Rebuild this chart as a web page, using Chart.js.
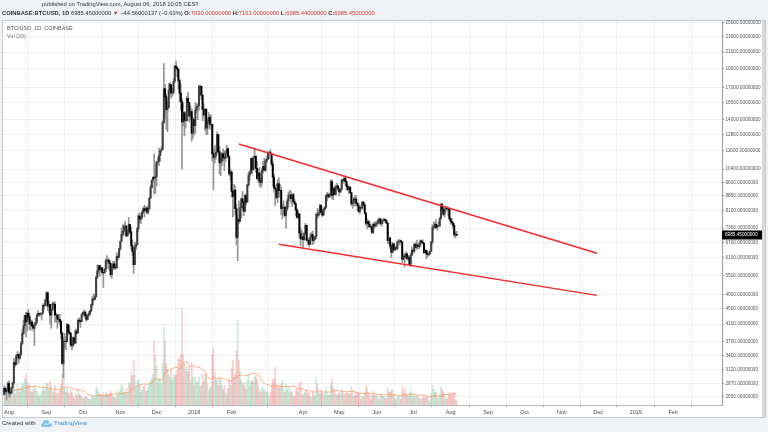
<!DOCTYPE html>
<html>
<head>
<meta charset="utf-8">
<script src="https://cdn.jsdelivr.net/npm/chart.js@4.4.0/dist/chart.umd.min.js"></script>
<style>
body{margin:0;width:768px;height:432px;background:#f0f3f6;position:relative;overflow:hidden;font-family:"Liberation Sans",Arial,sans-serif;}
.t{position:absolute;white-space:nowrap;color:#2f3136;z-index:3;}
.red{color:#d23a3a;}
#pane{position:absolute;left:2px;top:20px;width:764px;height:398px;background:#fff;border:1px solid #c8cbd0;box-sizing:border-box;}
#chart{position:absolute;left:0;top:0;z-index:2;}
#scroll{position:absolute;left:762px;top:21px;width:3px;height:396px;background:#d7d9dd;z-index:3;}
</style>
</head>
<body>
<div id="pane"></div>
<canvas id="chart" width="768" height="432"></canvas>
<div id="scroll"></div>
<div class="t" style="left:42px;top:1px;font-size:5.8px;color:#333">published on TradingView.com, August 06, 2018 10:05 CEST</div>
<div class="t" style="left:2px;top:10px;font-size:5.8px"><b>COINBASE:BTCUSD, 1D</b> 6985.45000000 <span class="red">&#9660;</span> &minus;44.56000137 (&minus;0.63%) <b>O:</b><span class="red">7030.00000000</span> <b>H:</b><span class="red">7163.00000000</span> <b>L:</b><span class="red">6985.44000000</span> <b>C:</b><span class="red">6985.45000000</span></div>
<div class="t" style="left:7px;top:25px;font-size:5.5px;color:#555">BTC/USD, 1D, COINBASE</div>
<div class="t" style="left:7px;top:33px;font-size:5.5px;color:#777">Vol (20)</div>
<div class="t" style="left:2px;top:420px;font-size:6px;color:#333">Created with</div>
<svg class="t" style="left:41px;top:419px" width="11" height="9" viewBox="0 0 11 9">
  <path d="M2 8 Q0 8 0 6 Q0 4 2 4 Q2 1 5 1 Q8 1 8.5 4 Q11 4 11 6 Q11 8 9 8 Z" fill="#7cc0ef"/>
  <path d="M3 6.5 L5 4.5 L6.5 6 L8.5 3.5" stroke="#fff" stroke-width="0.9" fill="none"/>
</svg>
<div class="t" style="left:54px;top:420px;font-size:6px;color:#2f8ee0">TradingView</div>

<script>
// days are counted from 1 Aug 2017; first candle is 28 Jul 2017
const firstDay = -4;
const firstOpen = 2690;

const closes = [
  2790, 2730, 2760, 2870,
  // Aug 2017
  2720, 2710, 2800, 2880, 3260, 3220, 3390, 3420, 3340, 3420, 3650, 3880, 4060, 4320, 4160, 4380, 4280, 4100, 4150, 4060, 4000, 4080, 4140, 4320, 4370, 4350, 4350, 4380, 4590, 4580, 4740,
  // Sep
  4950, 4570, 4620, 4330, 4460, 4630, 4620, 4330, 4330, 4230, 4220, 4170, 3880, 3240, 3700, 3700, 3690, 4090, 3910, 3880, 3620, 3610, 3780, 3660, 3930, 3890, 4200, 4190, 4160, 4340,
  // Oct
  4400, 4410, 4310, 4220, 4320, 4370, 4440, 4610, 4770, 4760, 4830, 5440, 5640, 5830, 5690, 5750, 5600, 5580, 5700, 6010, 6020, 5990, 5900, 5520, 5740, 5890, 5770, 5750, 6150, 6130, 6450,
  // Nov
  6740, 7030, 7160, 7380, 7390, 6960, 7100, 7460, 7140, 6580, 6350, 5860, 6520, 6600, 7280, 7850, 7700, 7790, 8040, 8200, 8100, 8230, 8030, 8200, 8750, 9300, 9730, 9900, 9850, 9950,
  // Dec
  10860, 10900, 11290, 11630, 11700, 13750, 16850, 16050, 14850, 15050, 16730, 17280, 16400, 16500, 17600, 19300, 19100, 18950, 17700, 16400, 15600, 13800, 14600, 13900, 13900, 15900, 15500, 14300, 14700, 12900, 14000,
  // Jan 2018
  13500, 14800, 15100, 15200, 17100, 17100, 16200, 14900, 14400, 14900, 13300, 13800, 14200, 13600, 13600, 11400, 11150, 11250, 11500, 12800, 11550, 10800, 10900, 11400, 11150, 11100, 11450, 11770, 11200, 10100, 10220,
  // Feb
  9100, 8830, 9170, 8200, 6900, 7700, 7600, 8250, 8700, 8550, 8070, 8880, 8530, 9460, 10040, 10170, 11100, 10380, 11150, 11230, 10450, 9830, 10160, 9690, 9600, 10310, 10570, 10330,
  // Mar
  10920, 11030, 11490, 11510, 11430, 10720, 9910, 9290, 9230, 8770, 9530, 9140, 9150, 8200, 8260, 8270, 7870, 8200, 8600, 8900, 8900, 8710, 8930, 8550, 8450, 8140, 7790, 7950, 7090, 6840, 6930,
  // Apr
  6810, 7060, 7420, 6790, 6780, 6620, 6900, 7020, 6770, 6830, 6940, 7920, 7890, 8000, 8360, 8050, 7890, 8170, 8280, 8860, 8920, 8800, 8940, 9650, 8870, 9280, 8930, 9350, 9400, 9240,
  // May
  9070, 9220, 9740, 9700, 9850, 9650, 9370, 9190, 9320, 9030, 8440, 8480, 8700, 8680, 8480, 8350, 8060, 8250, 8240, 8530, 8400, 7990, 7510, 7590, 7480, 7360, 7350, 7110, 7470, 7390, 7490,
  // Jun
  7520, 7640, 7710, 7490, 7620, 7650, 7690, 7620, 7520, 6770, 6880, 6550, 6310, 6640, 6400, 6490, 6460, 6710, 6740, 6760, 6720, 6050, 6170, 6140, 6250, 6080, 6130, 5870, 6200, 6390,
  // Jul
  6360, 6620, 6510, 6600, 6530, 6600, 6760, 6710, 6660, 6300, 6390, 6250, 6220, 6260, 6350, 6730, 7320, 7380, 7470, 7330, 7400, 7400, 7720, 8400, 8170, 7930, 8190, 8230, 8210, 8170, 7730,
  // Aug
  7600, 7540, 7420, 7010, 7030, 6985.45
];

const highs = [
  2830, 2810, 2780, 2900,
  2920, 2760, 2810, 2900, 3340, 3290, 3420, 3480, 3430, 3450, 3700, 3970, 4200, 4330, 4400, 4410, 4480, 4370, 4200, 4200, 4100, 4140, 4250, 4370, 4450, 4380, 4400, 4380, 4630, 4640, 4760,
  4980, 4980, 4720, 4620, 4490, 4680, 4690, 4690, 4380, 4350, 4350, 4350, 4190, 3920, 3790, 3880, 3800, 4120, 4100, 4060, 3900, 3770, 3800, 3790, 3980, 3980, 4220, 4260, 4200, 4370,
  4410, 4470, 4430, 4360, 4360, 4420, 4460, 4620, 4840, 4920, 4880, 5450, 5860, 5840, 5850, 5780, 5770, 5600, 5730, 6070, 6190, 6070, 6060, 5900, 5770, 5980, 5990, 5860, 6300, 6230, 6470,
  6750, 7300, 7450, 7480, 7600, 7400, 7200, 7780, 7450, 7330, 6800, 6490, 6700, 6710, 7330, 7950, 8000, 7850, 8100, 8290, 8370, 8300, 8270, 8350, 8760, 9450, 9750, 9950, 11400, 10700,
  10900, 11180, 11800, 11650, 11900, 13900, 19600, 17300, 16300, 15700, 17400, 17500, 17300, 16900, 17900, 19400, 19890, 19300, 19000, 17900, 17300, 15900, 15500, 14700, 14500, 16100, 16500, 15500, 15200, 14900, 14200,
  14000, 15500, 15400, 15400, 17200, 17250, 17100, 16300, 15400, 14950, 14950, 14000, 14600, 14400, 14400, 13600, 11700, 12000, 11850, 13000, 12800, 11900, 11400, 11500, 11750, 11600, 11600, 12000, 11800, 11300, 10400,
  10300, 9100, 9500, 9400, 8400, 7900, 8600, 8500, 8750, 9100, 8550, 8950, 8900, 9500, 10250, 10300, 11100, 11100, 11250, 11790, 11300, 10900, 10400, 10500, 9900, 10450, 10900, 11100,
  11050, 11200, 11550, 11550, 11700, 11430, 10900, 10100, 9410, 9500, 9750, 9880, 9500, 9350, 8400, 8600, 8350, 8300, 8700, 9050, 9170, 9100, 8930, 9000, 8700, 8500, 8200, 8100, 7960, 7300, 7200,
  7050, 7120, 7510, 7430, 6900, 6850, 7070, 7110, 7180, 6890, 6970, 8000, 8220, 8150, 8420, 8400, 8170, 8230, 8300, 8940, 9050, 9000, 9000, 9750, 9750, 9300, 9380, 9450, 9550, 9450,
  9250, 9240, 9800, 9760, 9990, 9900, 9650, 9480, 9370, 9400, 9040, 8650, 8780, 8880, 8860, 8480, 8480, 8270, 8380, 8560, 8560, 8400, 8000, 7720, 7660, 7620, 7400, 7430, 7530, 7560, 7600,
  7600, 7700, 7750, 7760, 7650, 7700, 7750, 7700, 7690, 7520, 6890, 6900, 6600, 6700, 6660, 6550, 6580, 6790, 6820, 6800, 6790, 6730, 6250, 6260, 6340, 6290, 6200, 6160, 6290, 6520,
  6440, 6680, 6680, 6790, 6690, 6640, 6800, 6790, 6810, 6690, 6400, 6400, 6340, 6320, 6400, 6740, 7450, 7580, 7560, 7680, 7450, 7580, 7780, 8480, 8480, 8300, 8280, 8230, 8290, 8270, 8180,
  7760, 7720, 7540, 7500, 7100, 7163
];

const lows = [
  2680, 2690, 2600, 2750,
  2650, 2650, 2700, 2780, 2860, 3170, 3210, 3340, 3240, 3320, 3400, 3630, 3850, 3990, 3800, 3940, 4200, 3960, 3960, 4030, 3940, 3600, 4080, 4120, 4300, 4290, 4320, 4200, 4360, 4470, 4570,
  4690, 4450, 4400, 4100, 4000, 4450, 4520, 4150, 4150, 4000, 4140, 4080, 3760, 3210, 2970, 3570, 3520, 3690, 3850, 3860, 3580, 3520, 3570, 3630, 3660, 3860, 3890, 4110, 4020, 4160,
  4290, 4360, 4240, 4170, 4200, 4310, 4330, 4420, 4560, 4720, 4740, 4830, 5390, 5560, 5460, 5600, 5520, 5110, 5560, 5620, 5900, 5720, 5650, 5460, 5400, 5690, 5690, 5700, 5730, 6020, 6090,
  6380, 6750, 6950, 6980, 7280, 6940, 6960, 7040, 7060, 6440, 6200, 5550, 5860, 6400, 6600, 7130, 7530, 7500, 7700, 7960, 7800, 8100, 7950, 7950, 8160, 8700, 9280, 9640, 8950, 9000,
  9400, 10700, 10600, 10900, 11500, 11700, 13700, 14100, 13200, 13000, 15000, 16300, 15900, 16100, 16300, 17500, 18800, 18100, 16800, 15600, 14800, 10400, 13500, 12700, 13300, 13900, 15100, 13800, 14000, 12300, 12500,
  12750, 12900, 14600, 14000, 14800, 16200, 15800, 13900, 14200, 13100, 12800, 12800, 13800, 13200, 13400, 10900, 9200, 10800, 11000, 11500, 11300, 10100, 10000, 10600, 10900, 10300, 10900, 11400, 11100, 10000, 9700,
  8800, 7800, 8200, 7900, 6600, 6000, 7500, 7600, 7750, 8200, 7850, 8050, 8400, 8530, 9400, 9700, 10100, 10100, 10300, 11100, 10200, 9750, 9600, 9400, 9300, 9400, 10150, 10300,
  10250, 10800, 11000, 11050, 11380, 10600, 9400, 9050, 8350, 8700, 8500, 8800, 8800, 7900, 7700, 7900, 7800, 7300, 8100, 8300, 8800, 8500, 8300, 8500, 8400, 7850, 7750, 7730, 6900, 6550, 6800,
  6450, 6780, 7050, 6730, 6610, 6520, 6610, 6890, 6610, 6660, 6810, 6850, 7750, 7830, 8000, 7920, 7830, 7880, 8110, 8200, 8600, 8750, 8800, 8930, 8700, 8650, 8930, 8900, 9200, 9100,
  8850, 9030, 9180, 9550, 9690, 9450, 9180, 9120, 8970, 9010, 8350, 8220, 8350, 8320, 8430, 8120, 8030, 7950, 8150, 8170, 8340, 7950, 7420, 7260, 7340, 7320, 7250, 7080, 7060, 7300, 7360,
  7370, 7460, 7600, 7450, 7370, 7500, 7630, 7560, 7500, 6650, 6650, 6450, 6120, 6290, 6380, 6380, 6440, 6400, 6660, 6590, 6680, 5940, 6030, 5780, 6070, 6030, 6010, 5870, 5800, 6200,
  6270, 6290, 6480, 6420, 6450, 6450, 6510, 6690, 6640, 6270, 6280, 6070, 6140, 6190, 6240, 6340, 6640, 7230, 7270, 7270, 7200, 7350, 7370, 7700, 8050, 7850, 7800, 8060, 8110, 7870, 7650,
  7460, 7490, 7280, 6930, 6880, 6985.44
];

// daily volume, thousand BTC
const volumes = [
  12, 8, 9, 11,
  14, 10, 9, 10, 16, 8, 11, 15, 12, 9, 13, 16, 15, 19, 22, 17, 14, 15, 10, 9, 11, 14, 12, 10, 8, 6, 7, 9, 14, 10, 12,
  16, 15, 11, 17, 14, 10, 9, 14, 8, 9, 8, 10, 15, 22, 24, 12, 9, 12, 9, 8, 11, 9, 6, 5, 8, 7, 11, 8, 7, 6,
  5, 5, 6, 6, 5, 4, 4, 5, 7, 6, 5, 12, 13, 9, 8, 6, 7, 9, 7, 9, 8, 7, 8, 10, 8, 6, 6, 5, 10, 7, 9,
  11, 15, 13, 9, 8, 12, 9, 16, 15, 23, 21, 32, 22, 12, 17, 18, 14, 9, 11, 13, 14, 10, 10, 12, 15, 18, 19, 22, 46, 36,
  28, 16, 20, 18, 15, 30, 56, 46, 30, 25, 22, 20, 25, 18, 22, 20, 22, 25, 34, 32, 36, 68, 36, 30, 24, 28, 24, 28, 18, 30, 20,
  14, 20, 17, 16, 20, 13, 14, 22, 17, 22, 22, 15, 10, 12, 13, 36, 41, 24, 18, 18, 14, 20, 18, 14, 11, 14, 9, 8, 12, 18, 14,
  26, 32, 20, 22, 39, 61, 32, 24, 18, 16, 14, 16, 11, 18, 22, 14, 17, 18, 16, 20, 21, 19, 14, 11, 9, 13, 12, 10,
  12, 9, 10, 6, 9, 14, 18, 19, 27, 14, 13, 14, 12, 15, 18, 11, 9, 15, 11, 13, 9, 10, 9, 7, 6, 10, 12, 9, 15, 17, 8,
  7, 9, 10, 11, 8, 9, 6, 5, 10, 7, 7, 20, 15, 9, 8, 10, 9, 8, 7, 12, 9, 7, 7, 15, 19, 13, 11, 8, 7, 8,
  9, 8, 11, 9, 7, 8, 9, 9, 8, 8, 13, 10, 6, 9, 7, 9, 8, 8, 4, 6, 6, 9, 14, 12, 9, 7, 4, 7, 10, 8, 7,
  7, 5, 4, 7, 7, 6, 6, 5, 4, 12, 9, 9, 11, 11, 7, 4, 4, 6, 6, 5, 4, 13, 10, 12, 8, 7, 6, 8, 10, 8,
  5, 8, 6, 7, 6, 4, 5, 4, 5, 7, 5, 6, 6, 3, 3, 8, 14, 11, 9, 9, 5, 5, 8, 13, 11, 9, 8, 5, 4, 6, 9,
  8, 6, 8, 9, 4, 3
];

const monthDays = [0, 31, 61, 92, 122, 153, 184, 243, 273, 304, 334, 365, 396, 426, 457, 487, 518, 549];
const monthLabels = ['Aug', 'Sep', 'Oct', 'Nov', 'Dec', '2018', 'Feb', 'Apr', 'May', 'Jun', 'Jul', 'Aug', 'Sep', 'Oct', 'Nov', 'Dec', '2019', 'Feb'];

const priceTicks = [25000, 23000, 21000, 19000, 17000, 15500, 14000, 12800, 11600, 10400, 9600, 8850, 8100, 7300, 6700, 6100, 5500, 4900, 4500, 4100, 3700, 3400, 3120, 2870, 2650];

// hand drawn trend lines (day, price)
const upperLineDays = [190, 486];
const upperLinePrices = [12096, 6277];
const lowerLineDays = [223, 486];
const lowerLinePrices = [6625, 4874];

// open of each day = previous close (24h market)
const opens = closes.map((c, i) => i === 0 ? firstOpen : closes[i - 1]);
const days = closes.map((c, i) => firstDay + i);
const isUp = closes.map((c, i) => c >= opens[i]);
const volMA = volumes.map((v, i) => {
    const win = volumes.slice(Math.max(0, i - 19), i + 1);
    return win.reduce((a, b) => a + b, 0) / win.length;
});

const fontFam = '"Liberation Sans", Arial, sans-serif';

const lastPriceLabel = {
    id: 'lastPriceLabel',
    afterDraw(chart) {
        const ctx = chart.ctx;
        const last = closes[closes.length - 1];
        const y = chart.scales.y.getPixelForValue(last);
        const x = chart.chartArea.right;
        ctx.save();
        ctx.fillStyle = '#000';
        ctx.fillRect(x, Math.round(y) - 4.5, 40, 9);
        ctx.fillStyle = '#fff';
        ctx.font = '4.7px ' + fontFam;
        ctx.textBaseline = 'middle';
        ctx.fillText(last.toFixed(8), x + 3, Math.round(y));
        ctx.restore();
    }
};

new Chart(document.getElementById('chart'), {
    type: 'bar',
    data: {
        datasets: [
            {
                type: 'line',
                data: upperLineDays.map((d, i) => ({ x: d, y: upperLinePrices[i] })),
                borderColor: '#f52a2a',
                borderWidth: 1.5,
                pointRadius: 0,
                yAxisID: 'y',
                order: 0
            },
            {
                type: 'line',
                data: lowerLineDays.map((d, i) => ({ x: d, y: lowerLinePrices[i] })),
                borderColor: '#f52a2a',
                borderWidth: 1.5,
                pointRadius: 0,
                yAxisID: 'y',
                order: 0
            },
            {
                // candle bodies
                data: days.map((d, i) => ({ x: d, y: [Math.min(opens[i], closes[i]), Math.max(opens[i], closes[i])] })),
                backgroundColor: isUp.map(u => u ? '#3c3c3c' : '#000'),
                barThickness: 1.3,
                grouped: false,
                yAxisID: 'y',
                order: 1
            },
            {
                // wicks
                data: days.map((d, i) => ({ x: d, y: [lows[i], highs[i]] })),
                backgroundColor: '#959595',
                barThickness: 1,
                grouped: false,
                yAxisID: 'y',
                order: 2
            },
            {
                type: 'line',
                data: days.map((d, i) => ({ x: d, y: volMA[i] })),
                borderColor: 'rgba(250,140,70,0.65)',
                borderWidth: 1,
                pointRadius: 0,
                yAxisID: 'yv',
                order: 3
            },
            {
                data: days.map((d, i) => ({ x: d, y: volumes[i] })),
                backgroundColor: isUp.map(u => u ? 'rgba(60,170,110,0.25)' : 'rgba(240,80,80,0.28)'),
                barThickness: 1,
                grouped: false,
                yAxisID: 'yv',
                order: 4
            }
        ]
    },
    options: {
        responsive: false,
        animation: false,
        layout: { padding: { left: 3, right: 6, top: 21, bottom: 0 } },
        plugins: { legend: { display: false }, tooltip: { enabled: false } },
        scales: {
            x: {
                type: 'linear',
                min: -4.96,
                max: 589.3,
                offset: false,
                bounds: 'data',
                afterBuildTicks: s => { s.ticks = monthDays.map(v => ({ value: v })); },
                afterFit: s => { s.height = 27; },
                ticks: {
                    autoSkip: false,
                    maxRotation: 0,
                    padding: 2,
                    color: '#4d4d4d',
                    font: { size: 5.5, family: fontFam },
                    callback: (v, i) => monthLabels[i]
                },
                grid: { color: '#eceef1', tickLength: 2, tickColor: '#999' },
                border: { color: '#b5b8bd' }
            },
            y: {
                type: 'logarithmic',
                position: 'right',
                min: 2524,
                max: 25301,
                bounds: 'data',
                afterBuildTicks: s => { s.ticks = priceTicks.map(v => ({ value: v })); },
                afterFit: s => { s.width = 40; },
                ticks: {
                    autoSkip: false,
                    padding: 1.5,
                    color: '#555',
                    font: { size: 4.7, family: fontFam },
                    callback: v => Number(v).toFixed(8)
                },
                grid: { color: '#eceef1', tickLength: 2, tickColor: '#888' },
                border: { color: '#9a9da2' }
            },
            yv: { type: 'linear', display: false, min: 0, max: 275 }
        }
    },
    plugins: [lastPriceLabel]
});
</script>
</body>
</html>
